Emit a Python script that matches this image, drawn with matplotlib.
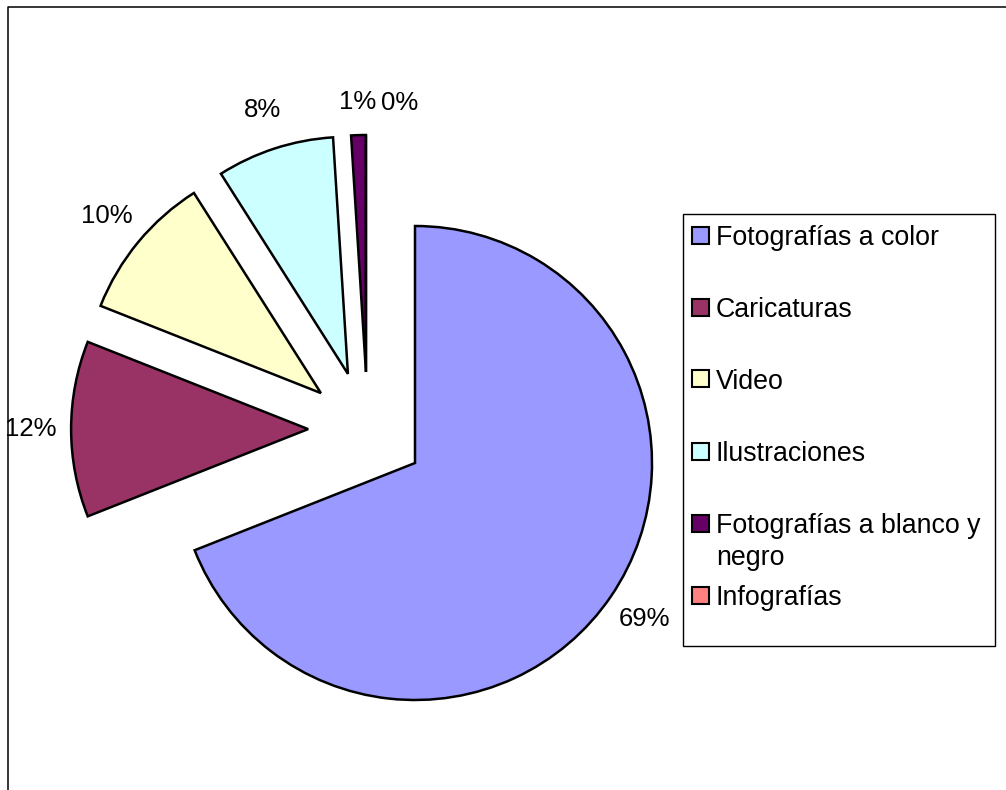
import matplotlib
matplotlib.use("Agg")
import matplotlib.pyplot as plt
from matplotlib.patches import Rectangle
from matplotlib.lines import Line2D

# Data
categories = ["Fotografías a color", "Caricaturas", "Video", "Ilustraciones",
              "Fotografías a blanco y negro", "Infografías"]
percentages = [69, 12, 10, 8, 1, 0]
legend_labels = ["Fotografías a color", "Caricaturas", "Video", "Ilustraciones",
                 "Fotografías a blanco y\nnegro", "Infografías"]
colors = ["#9999FF", "#993366", "#FFFFCC", "#CCFFFF", "#660066", "#FF8080"]

# Styling / layout
slice_shift = [(0.0, 0.0), (-0.451, 0.143), (-0.397, 0.295),
               (-0.283, 0.376), (-0.207, 0.384), (-0.207, 0.384)]
label_nudge = [(0, 0), (0, 0), (0, 0), (0, 0), (0.0, -0.03), (0.144, -0.035)]
FONT = "Liberation Sans"

W, H = 1006, 790
R = 237.0            # pie radius in pixels
cx, cy = 415, 463    # pie centre in pixels (from top-left)

fig = plt.figure(figsize=(W / 100, H / 100), dpi=100)
ax = fig.add_axes([0, 0, 1, 1])

wedges, texts, autotexts = ax.pie(
    percentages, colors=colors, startangle=90, counterclock=False, radius=1,
    autopct=lambda p: f"{p:.0f}%", pctdistance=1.17,
    wedgeprops=dict(edgecolor="black", linewidth=1.8),
    textprops=dict(fontsize=18.5, color="black", family=FONT))

for w, t, (dx, dy), (nx, ny) in zip(wedges, autotexts, slice_shift, label_nudge):
    w.set_center((dx, dy))
    x, y = t.get_position()
    t.set_position((x + dx + nx, y + dy + ny))

ax.set_xlim(-cx / R, (W - cx) / R)
ax.set_ylim(-(H - cy) / R, cy / R)
ax.axis("off")

# Chart area frame (top and left edges)
fig.add_artist(Line2D([8 / W, 8 / W, 1.0], [0.0, 1 - 7 / H, 1 - 7 / H],
                      color="black", linewidth=1.1, transform=fig.transFigure))

# Legend box
lx0, ly0, lx1, ly1 = 683, 214, 995, 646
fig.add_artist(Rectangle((lx0 / W, 1 - ly1 / H), (lx1 - lx0) / W, (ly1 - ly0) / H,
                         transform=fig.transFigure, fill=False,
                         edgecolor="black", linewidth=1.0))
row0, step, line_step = 235, 72, 32
legend_fs = 19.3
cap = 0.716 * legend_fs * 100 / 72
for i, (lab, col) in enumerate(zip(legend_labels, colors)):
    yc = row0 + step * i
    fig.add_artist(Rectangle((692 / W, 1 - (yc + 8.5) / H), 17 / W, 17 / H,
                             transform=fig.transFigure, facecolor=col,
                             edgecolor="black", linewidth=1.5))
    for k, line in enumerate(lab.split("\n")):
        fig.text(716 / W, 1 - (yc + cap / 2 + k * line_step) / H, line,
                 fontsize=legend_fs, family=FONT, va="baseline", ha="left")

fig.savefig("out.png", dpi=100)
